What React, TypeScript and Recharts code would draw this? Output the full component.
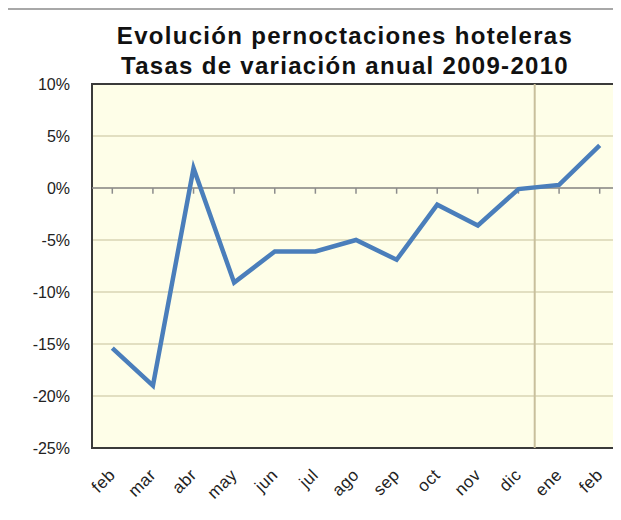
import { LineChart, Line, XAxis, YAxis, CartesianGrid, ReferenceLine, ReferenceArea } from 'recharts'

// meses feb 2009 - feb 2010
const months = ['feb', 'mar', 'abr', 'may', 'jun', 'jul', 'ago', 'sep', 'oct', 'nov', 'dic', 'ene', 'feb']
const variation = [-15.4, -19.0, 1.9, -9.1, -6.1, -6.1, -5.0, -6.9, -1.6, -3.6, -0.1, 0.3, 4.1]
const yTicks = [-25, -20, -15, -10, -5, 0, 5, 10]

const data = months.map((m, i) => ({ idx: i, month: m, value: variation[i] }))
const xTicks = months.map((_, i) => i)

const font = '"Liberation Sans", Arial, sans-serif'

function MonthTick(props: any) {
  const { x, y, payload } = props
  const ax = x + 4
  const ay = y + 20
  return (
    <text
      x={ax}
      y={ay}
      transform={`rotate(-45, ${ax}, ${ay})`}
      textAnchor="end"
      fontSize={17}
      letterSpacing={0.5}
      fontFamily={font}
      fill="#222"
    >
      {months[payload.value]}
    </text>
  )
}

export default function App() {
  return (
    <div style={{ position: 'relative', width: 613, height: 512, fontFamily: font }}>
      <div
        style={{
          position: 'absolute',
          left: 0,
          width: 674,
          top: 13,
          textAlign: 'center',
          fontWeight: 'bold',
          fontSize: 24,
          letterSpacing: 1.3,
          lineHeight: '30px',
          color: '#111'
        }}
      >
        Evolución pernoctaciones hoteleras
        <br />
        Tasas de variación anual 2009-2010
      </div>
      <div style={{ position: 'absolute', left: 0, top: 0 }}>
        <LineChart width={613} height={512} data={data} margin={{ top: 76, right: 1, bottom: 0, left: 0 }}>
          <CartesianGrid vertical={false} stroke="#d8d4b4" strokeWidth={1.5} fill="#fefee8" />
          <XAxis
            dataKey="idx"
            type="number"
            domain={[-0.5, 12.5]}
            ticks={xTicks}
            interval={0}
            axisLine={false}
            tickLine={false}
            tick={<MonthTick />}
            height={72}
          />
          <YAxis
            type="number"
            domain={[-25, 10]}
            ticks={yTicks}
            tickFormatter={(v: number) => `${v}%`}
            axisLine={false}
            tickLine={false}
            tickSize={0}
            tickMargin={22}
            width={84}
            tick={{ fontSize: 16, fill: '#222', fontFamily: font }}
          />
          <ReferenceLine y={0} stroke="#8c8c8c" strokeWidth={1.5} />
          {xTicks.map((i) => (
            <ReferenceLine
              key={i}
              segment={[{ x: i, y: 0 }, { x: i, y: -0.55 }]}
              stroke="#8c8c8c"
              strokeWidth={1.5}
            />
          ))}
          <ReferenceLine x={10.4} stroke="#c8bf9c" strokeWidth={2} />
          <ReferenceArea x1={-0.5} x2={12.5} y1={-25} y2={10} fill="none" fillOpacity={0} stroke="#3a3a3a" strokeWidth={2} />
          <Line
            type="linear"
            dataKey="value"
            stroke="#4a7ebb"
            strokeWidth={4.5}
            dot={false}
            isAnimationActive={false}
          />
        </LineChart>
      </div>
      <div
        style={{
          position: 'absolute',
          left: -3,
          top: 0,
          width: 616,
          height: 512,
          borderLeft: '2px solid #a8a8a8',
          borderTop: '2px solid #a8a8a8',
          pointerEvents: 'none',
          zIndex: 5
        }}
      />
    </div>
  )
}
